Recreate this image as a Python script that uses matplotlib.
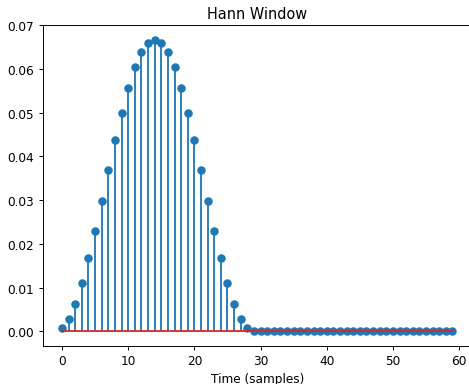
import matplotlib
matplotlib.use("Agg")
import matplotlib.pyplot as plt
import numpy as np

# Hann window values (normalized), followed by zero padding
half = [0.000728, 0.002882, 0.006366, 0.011029, 0.016667, 0.023033, 0.029849,
        0.036818, 0.043634, 0.050000, 0.055638, 0.060301, 0.063785, 0.065938]
peak = [0.066667]
window = half + peak + half[::-1]
padding = [0.0] * 31
values = window + padding
samples = list(range(len(values)))

W, H = 469, 385
DPI = 87
fig = plt.figure(figsize=(W / DPI, H / DPI), dpi=DPI)
ax = fig.add_axes([42.5 / W, 1 - 347 / H, (472 - 42.5) / W, (347 - 26) / H])
ax.stem(samples, values)
ax.set_title("Hann Window")
ax.set_xlabel("Time (samples)")
fig.savefig("out.png", dpi=DPI)
